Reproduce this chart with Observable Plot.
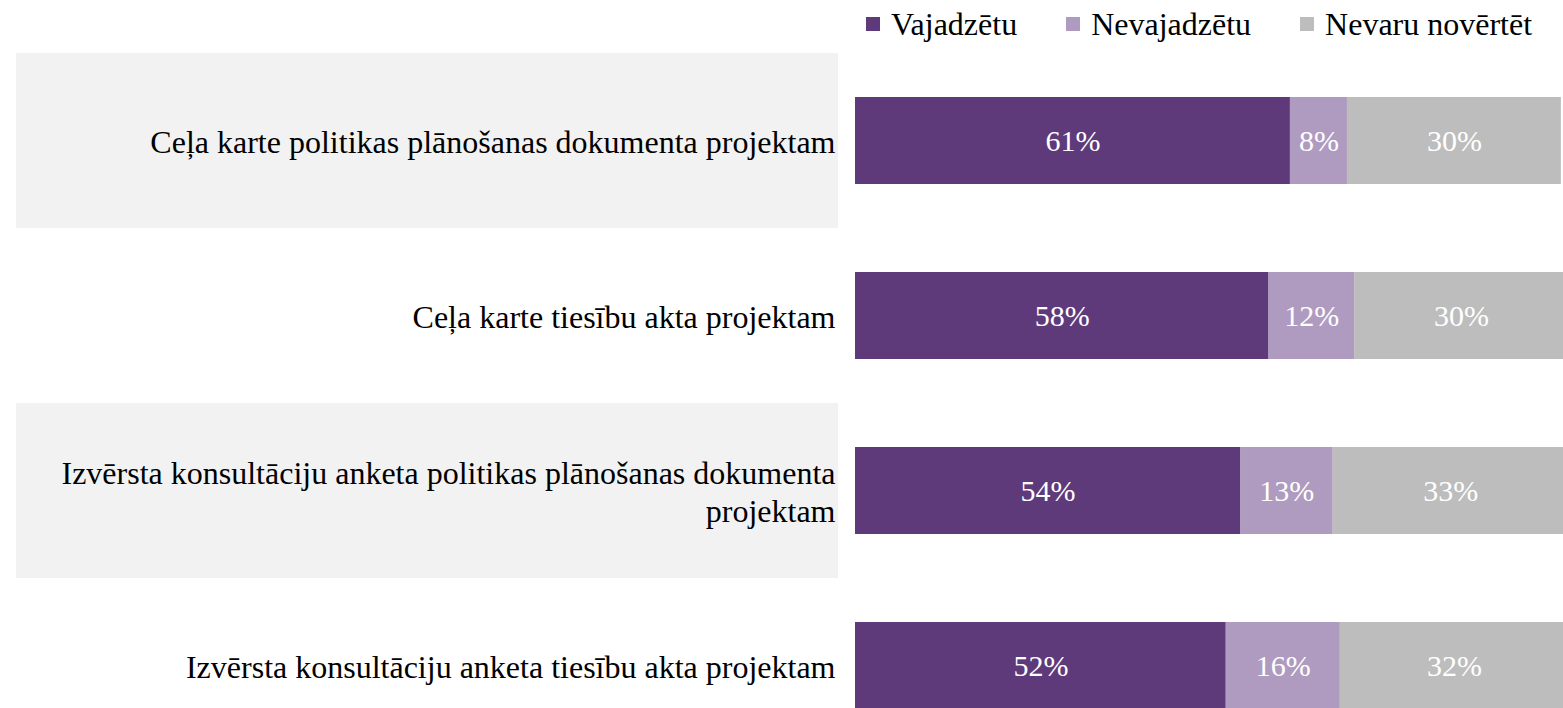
<!DOCTYPE html>
<html>
<head>
<meta charset="utf-8">
<script src="https://cdn.jsdelivr.net/npm/d3@7"></script>
<script src="https://cdn.jsdelivr.net/npm/@observablehq/plot@0.6"></script>
<style>
  html, body { margin: 0; padding: 0; background: #fff; overflow: hidden; width: 1563px; height: 708px; }
  #wrap { position: relative; width: 1563px; height: 708px; overflow: hidden; font-family: "Liberation Serif", "Times New Roman", serif; }
  #legend { position: absolute; left: 866px; top: 4px; height: 40px; display: flex; align-items: center; font-size: 32px; color: #000; white-space: nowrap; }
  #legend .item { display: flex; align-items: center; }
  #legend .sw { width: 14px; height: 14px; margin-right: 11px; display: inline-block; }
  #chart { position: absolute; left: 0; top: 53px; width: 1568px; }
  #chart svg { max-width: none !important; }
</style>
</head>
<body>
<div id="wrap">
  <div id="legend"></div>
  <div id="chart"></div>
</div>
<script>
const categories = [
  "Ceļa karte politikas plānošanas dokumenta projektam",
  "Ceļa karte tiesību akta projektam",
  "Izvērsta konsultāciju anketa politikas plānošanas dokumenta projektam",
  "Izvērsta konsultāciju anketa tiesību akta projektam"
];
const categoryLabels = [
  "Ceļa karte politikas plānošanas dokumenta projektam",
  "Ceļa karte tiesību akta projektam",
  "Izvērsta konsultāciju anketa politikas plānošanas dokumenta\nprojektam",
  "Izvērsta konsultāciju anketa tiesību akta projektam"
];
const series = ["Vajadzētu", "Nevajadzētu", "Nevaru novērtēt"];
const colors = ["#5e3a7a", "#af9bbf", "#bdbdbd"];
const vajadzetu = [61, 58, 54, 52];
const nevajadzetu = [8, 12, 13, 16];
const nevaruNovertet = [30, 30, 33, 32];
const shadedRows = [categories[0], categories[2]];

const seriesValues = [vajadzetu, nevajadzetu, nevaruNovertet];
const data = [];
categories.forEach((c, i) => {
  series.forEach((s, j) => {
    data.push({category: c, series: s, value: seriesValues[j][i]});
  });
});
const labelMap = new Map(categories.map((c, i) => [c, categoryLabels[i]]));

// legend
const legend = document.getElementById("legend");
series.forEach((s, j) => {
  const item = document.createElement("span");
  item.className = "item";
  item.style.marginRight = j < series.length - 1 ? "49px" : "0";
  const sw = document.createElement("span");
  sw.className = "sw";
  sw.style.background = colors[j];
  item.appendChild(sw);
  item.appendChild(document.createTextNode(s));
  legend.appendChild(item);
});

const chart = Plot.plot({
  width: 1568,
  height: 700,
  marginLeft: 855,
  marginRight: 0,
  marginTop: 0,
  marginBottom: 0,
  style: {fontFamily: "Liberation Serif, Times New Roman, serif", background: "transparent", maxWidth: "none"},
  x: {domain: [0, 100], axis: null},
  y: {domain: categories, padding: 0, axis: null},
  color: {domain: series, range: colors},
  marks: [
    Plot.cell(shadedRows, {y: d => d, fill: "#f2f2f2", insetLeft: -839, insetRight: 730}),
    Plot.barX(data, Plot.stackX({x: "value", y: "category", z: "series", fill: "series", order: series, insetTop: 44, insetBottom: 44})),
    Plot.text(data, Plot.stackX({x: "value", y: "category", z: "series", order: series, text: d => d.value + "%", fill: "white", fontSize: 30})),
    Plot.text(categories, {y: d => d, text: d => labelMap.get(d), frameAnchor: "left", textAnchor: "end", dx: -20, fontSize: 32, lineHeight: 1.2, fill: "#000"})
  ]
});
document.getElementById("chart").appendChild(chart);
</script>
</body>
</html>
